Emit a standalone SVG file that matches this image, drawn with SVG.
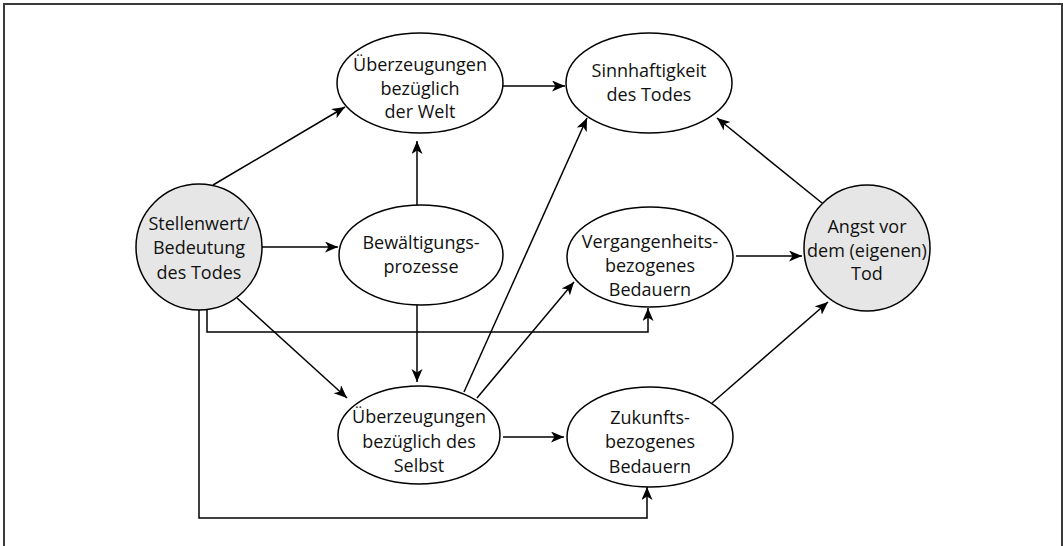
<svg xmlns="http://www.w3.org/2000/svg" width="1063" height="546" viewBox="0 0 1063 546">
<style>
.frame{fill:none;stroke:#3a3a3a;stroke-width:2}
.node{fill:#ffffff;stroke:#000;stroke-width:1.5}
.grey{fill:#e6e6e6;stroke:#000;stroke-width:1.5}
.lbl{font-family:"Open Sans","Noto Sans",sans-serif;font-size:18px;fill:#111;text-anchor:middle}
.edge{fill:none;stroke:#000;stroke-width:1.5}
</style>
<defs>
<marker id="arr" markerUnits="userSpaceOnUse" markerWidth="14" markerHeight="12" refX="13" refY="5.5" orient="auto">
<path d="M0,0 L13,5.5 L0,11 L3.5,5.5 z" fill="#000"/>
</marker>
</defs>
<rect width="1063" height="546" fill="#fff"/>
<path class="frame" d="M4,560 V4 H1062 V560"/>
<g id="connectors">
<line class="edge" x1="213" y1="185" x2="345" y2="107" marker-end="url(#arr)"/>
<line class="edge" x1="262" y1="247" x2="338" y2="247" marker-end="url(#arr)"/>
<line class="edge" x1="417" y1="206" x2="417" y2="141" marker-end="url(#arr)"/>
<line class="edge" x1="502" y1="86" x2="565" y2="86" marker-end="url(#arr)"/>
<line class="edge" x1="822" y1="203" x2="717" y2="118" marker-end="url(#arr)"/>
<line class="edge" x1="736" y1="256" x2="802" y2="256" marker-end="url(#arr)"/>
<line class="edge" x1="237" y1="298" x2="347" y2="398" marker-end="url(#arr)"/>
<line class="edge" x1="417" y1="305" x2="417" y2="382" marker-end="url(#arr)"/>
<path class="edge" d="M207,309 V332 H648 V308" marker-end="url(#arr)"/>
<path class="edge" d="M199,310 V518 H647 V487" marker-end="url(#arr)"/>
<line class="edge" x1="464" y1="392" x2="587" y2="118" marker-end="url(#arr)"/>
<line class="edge" x1="477" y1="398" x2="574" y2="282" marker-end="url(#arr)"/>
<line class="edge" x1="503" y1="437" x2="564" y2="437" marker-end="url(#arr)"/>
<line class="edge" x1="712" y1="403" x2="828" y2="302" marker-end="url(#arr)"/>
</g>
<g id="stellenwert">
<circle class="grey" cx="199" cy="247" r="63"/>
<text class="lbl" x="199" y="230">Stellenwert/</text>
<text class="lbl" x="199" y="254">Bedeutung</text>
<text class="lbl" x="199" y="279">des Todes</text>
</g>
<g id="welt">
<ellipse class="node" cx="420" cy="83" rx="83" ry="50"/>
<text class="lbl" x="420" y="71">Überzeugungen</text>
<text class="lbl" x="420" y="95">bezüglich</text>
<text class="lbl" x="420" y="118">der Welt</text>
</g>
<g id="sinn">
<ellipse class="node" cx="649" cy="83" rx="83" ry="50"/>
<text class="lbl" x="649" y="77">Sinnhaftigkeit</text>
<text class="lbl" x="649" y="101">des Todes</text>
</g>
<g id="bewaeltigung">
<ellipse class="node" cx="421" cy="255" rx="82" ry="50"/>
<text class="lbl" x="421" y="249">Bewältigungs-</text>
<text class="lbl" x="421" y="273">prozesse</text>
</g>
<g id="vergangenheit">
<ellipse class="node" cx="650" cy="257" rx="83" ry="50"/>
<text class="lbl" x="650" y="248">Vergangenheits-</text>
<text class="lbl" x="650" y="272">bezogenes</text>
<text class="lbl" x="650" y="296">Bedauern</text>
</g>
<g id="angst">
<circle class="grey" cx="867" cy="248" r="63"/>
<text class="lbl" x="867" y="233">Angst vor</text>
<text class="lbl" x="867" y="257">dem (eigenen)</text>
<text class="lbl" x="867" y="280">Tod</text>
</g>
<g id="selbst">
<ellipse class="node" cx="419" cy="435" rx="81" ry="49"/>
<text class="lbl" x="419" y="423">Überzeugungen</text>
<text class="lbl" x="419" y="448">bezüglich des</text>
<text class="lbl" x="419" y="472">Selbst</text>
</g>
<g id="zukunft">
<ellipse class="node" cx="650" cy="437" rx="83" ry="50"/>
<text class="lbl" x="650" y="424">Zukunfts-</text>
<text class="lbl" x="650" y="448">bezogenes</text>
<text class="lbl" x="650" y="473">Bedauern</text>
</g>
</svg>
